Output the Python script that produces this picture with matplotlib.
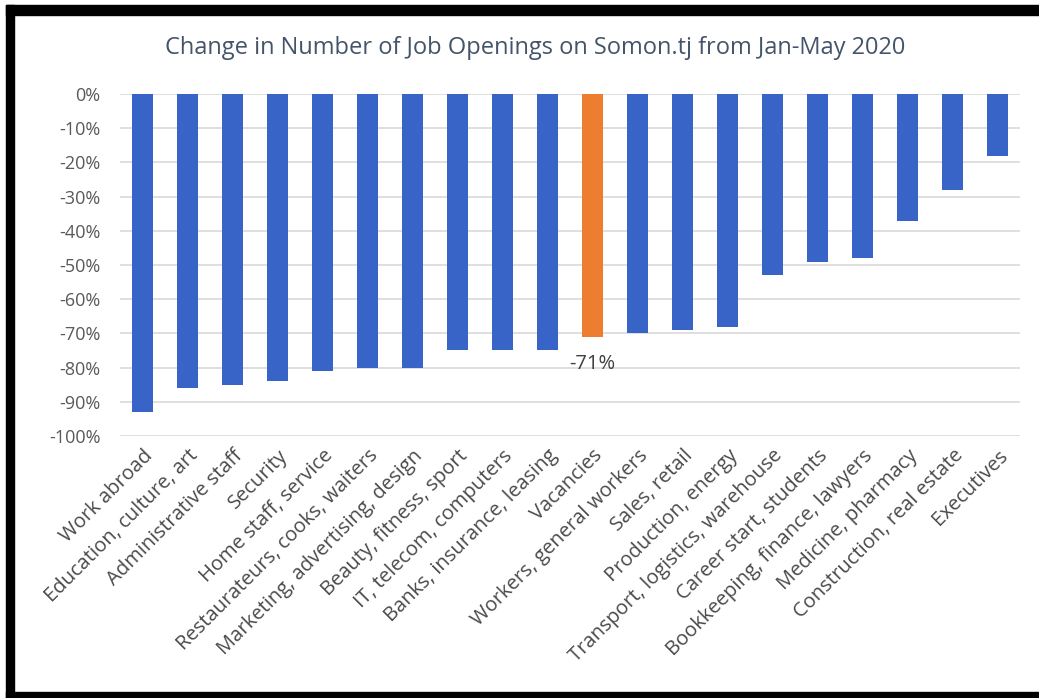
import matplotlib.pyplot as plt
from matplotlib.patches import Rectangle
from matplotlib.ticker import FuncFormatter

categorias = [
    "Work abroad",
    "Education, culture, art",
    "Administrative staff",
    "Security",
    "Home staff, service",
    "Restaurateurs, cooks, waiters",
    "Marketing, advertising, design",
    "Beauty, fitness, sport",
    "IT, telecom, computers",
    "Banks, insurance, leasing",
    "Vacancies",
    "Workers, general workers",
    "Sales, retail",
    "Production, energy",
    "Transport, logistics, warehouse",
    "Career start, students",
    "Bookkeeping, finance, lawyers",
    "Medicine, pharmacy",
    "Construction, real estate",
    "Executives",
]

variacao = [-93, -86, -85, -84, -81, -80, -80, -75, -75, -75,
            -71, -70, -69, -68, -53, -49, -48, -37, -28, -18]

destaque = "Vacancies"

plt.rcParams['font.family'] = ['Open Sans', 'DejaVu Sans']

fig = plt.figure(figsize=(10.39, 6.98), dpi=100)
ax = fig.add_axes([0.1155, 0.3754, 0.8665, 0.4899])

cores = ['#ed7d31' if c == destaque else '#3764c6' for c in categorias]
x = list(range(len(categorias)))
ax.bar(x, variacao, width=0.47, color=cores, zorder=3)

# rótulo só na barra destacada
i = categorias.index(destaque)
ax.text(i, variacao[i] - 5, f"{variacao[i]}%", ha='center', va='top',
        fontsize=14.5, color='#404040')

ax.set_xlim(-0.5, len(categorias) - 0.5)
ax.set_ylim(-100, 0)
ax.set_yticks(range(-100, 1, 10))
ax.yaxis.set_major_formatter(FuncFormatter(lambda v, p: f"{int(v)}%"))
ax.grid(axis='y', color='#d9d9d9', linewidth=1.2, zorder=0)
for s in ax.spines.values():
    s.set_visible(False)
ax.tick_params(axis='both', length=0, colors='#595959', labelsize=13)
ax.tick_params(axis='y', pad=14)
ax.set_xticks(x)
ax.set_xticklabels(categorias, rotation=45, ha='right', rotation_mode='anchor',
                   fontsize=14.5, color='#4a4a4a')
ax.tick_params(axis='x', pad=7)

fig.text(0.515, 0.931, "Change in Number of Job Openings on Somon.tj from Jan-May 2020",
         ha='center', va='center', fontsize=17, color='#44546a')

# moldura preta
W, H = 1039, 698
def faixa(x0, y0, x1, y1):
    fig.patches.append(Rectangle((x0 / W, 1 - y1 / H), (x1 - x0) / W, (y1 - y0) / H,
                                 transform=fig.transFigure, color='black', zorder=10))
faixa(6, 5, 14, 698)
faixa(6, 5, 1039, 15)
faixa(6, 692, 1039, 698)

fig.savefig('out.png', dpi=100)
